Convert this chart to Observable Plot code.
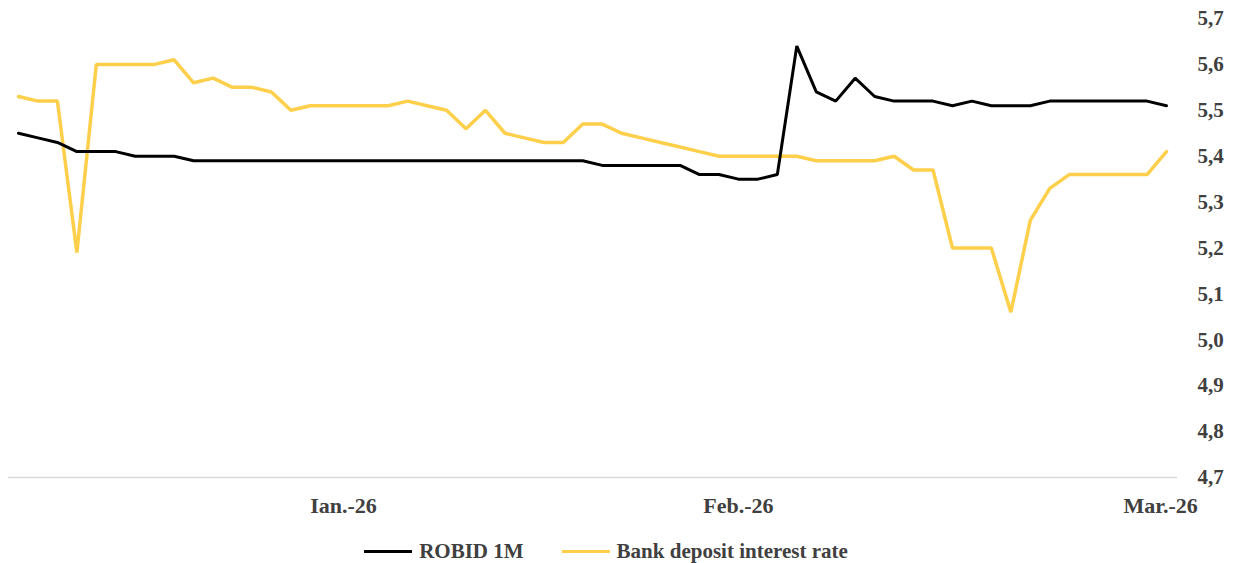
<!DOCTYPE html>
<html>
<head>
<meta charset="utf-8">
<script src="https://cdn.jsdelivr.net/npm/d3@7"></script>
<script src="https://cdn.jsdelivr.net/npm/@observablehq/plot@0.6"></script>
<style>
  html, body { margin: 0; padding: 0; background: #fff; }
  #chart svg { display: block; }
  .legend { display: flex; justify-content: center; align-items: center; height: 26px; margin-top: 13px; padding-right: 25px;
    font-family: "Liberation Serif", "Times New Roman", serif; font-weight: bold; font-size: 21px; color: #404040; }
  .legend .item { display: flex; align-items: center; margin: 0 19px; }
  .legend .sw { width: 48px; height: 3px; margin-right: 7px; }
</style>
</head>
<body>
<div id="chart"></div>
<div class="legend" id="legend"></div>
<script>
const seriesNames = ["ROBID 1M", "Bank deposit interest rate"];
const seriesColors = ["#000000", "#FDCF4B"];
const robid = [5.45,5.44,5.43,5.41,5.41,5.41,5.40,5.40,5.40,5.39,
  5.39,5.39,5.39,5.39,5.39,5.39,5.39,5.39,5.39,5.39,
  5.39,5.39,5.39,5.39,5.39,5.39,5.39,5.39,5.39,5.39,
  5.38,5.38,5.38,5.38,5.38,5.36,5.36,5.35,5.35,5.36,
  5.64,5.54,5.52,5.57,5.53,5.52,5.52,5.52,5.51,5.52,
  5.51,5.51,5.51,5.52,5.52,5.52,5.52,5.52,5.52,5.51];
const deposit = [5.53,5.52,5.52,5.19,5.60,5.60,5.60,5.60,5.61,5.56,
  5.57,5.55,5.55,5.54,5.50,5.51,5.51,5.51,5.51,5.51,
  5.52,5.51,5.50,5.46,5.50,5.45,5.44,5.43,5.43,5.47,
  5.47,5.45,5.44,5.43,5.42,5.41,5.40,5.40,5.40,5.40,
  5.40,5.39,5.39,5.39,5.39,5.40,5.37,5.37,5.20,5.20,
  5.20,5.06,5.26,5.33,5.36,5.36,5.36,5.36,5.36,5.41];
const xTickLabels = ["Ian.-26", "Feb.-26", "Mar.-26"];
const xTickIndex = [16.7, 37, 58.7];
const yTicks = [4.7,4.8,4.9,5.0,5.1,5.2,5.3,5.4,5.5,5.6,5.7];

const data = [];
robid.forEach((v, i) => data.push({i, v, s: seriesNames[0]}));
deposit.forEach((v, i) => data.push({i, v, s: seriesNames[1]}));

const fmt = d3.format(".1f");
const chart = Plot.plot({
  width: 1237,
  height: 525,
  marginTop: 18,
  marginBottom: 48,
  marginLeft: 18,
  marginRight: 71,
  style: { fontFamily: '"Liberation Serif", "Times New Roman", serif', fontWeight: "bold", fontSize: "22px", color: "#404040", background: "#fff" },
  x: { type: "linear", domain: [0, robid.length - 1] },
  y: { domain: [4.7, 5.7] },
  color: { domain: seriesNames, range: seriesColors },
  marks: [
    Plot.ruleY([4.7], { stroke: "#d9d9d9", strokeWidth: 1.3, insetLeft: -10, insetRight: -11 }),
    Plot.axisY({ anchor: "right", ticks: yTicks, tickSize: 0, tickPadding: 31, textAnchor: "start", tickFormat: d => fmt(d).replace(".", ","), label: null, fontSize: 21 }),
    Plot.axisX({ ticks: xTickIndex, tickSize: 0, tickPadding: 20, tickFormat: (d, k) => xTickLabels[k], label: null, fontSize: 22 }),
    Plot.line(data.filter(d => d.s === seriesNames[1]), { x: "i", y: "v", stroke: "s", strokeWidth: 3.5, strokeLinejoin: "miter" }),
    Plot.line(data.filter(d => d.s === seriesNames[0]), { x: "i", y: "v", stroke: "s", strokeWidth: 3, strokeLinejoin: "miter" })
  ]
});
document.getElementById("chart").appendChild(chart);

const lg = document.getElementById("legend");
seriesNames.forEach((n, k) => {
  const it = document.createElement("div");
  it.className = "item";
  it.innerHTML = `<span class="sw" style="background:${seriesColors[k]}"></span><span>${n}</span>`;
  lg.appendChild(it);
});
</script>
</body>
</html>
